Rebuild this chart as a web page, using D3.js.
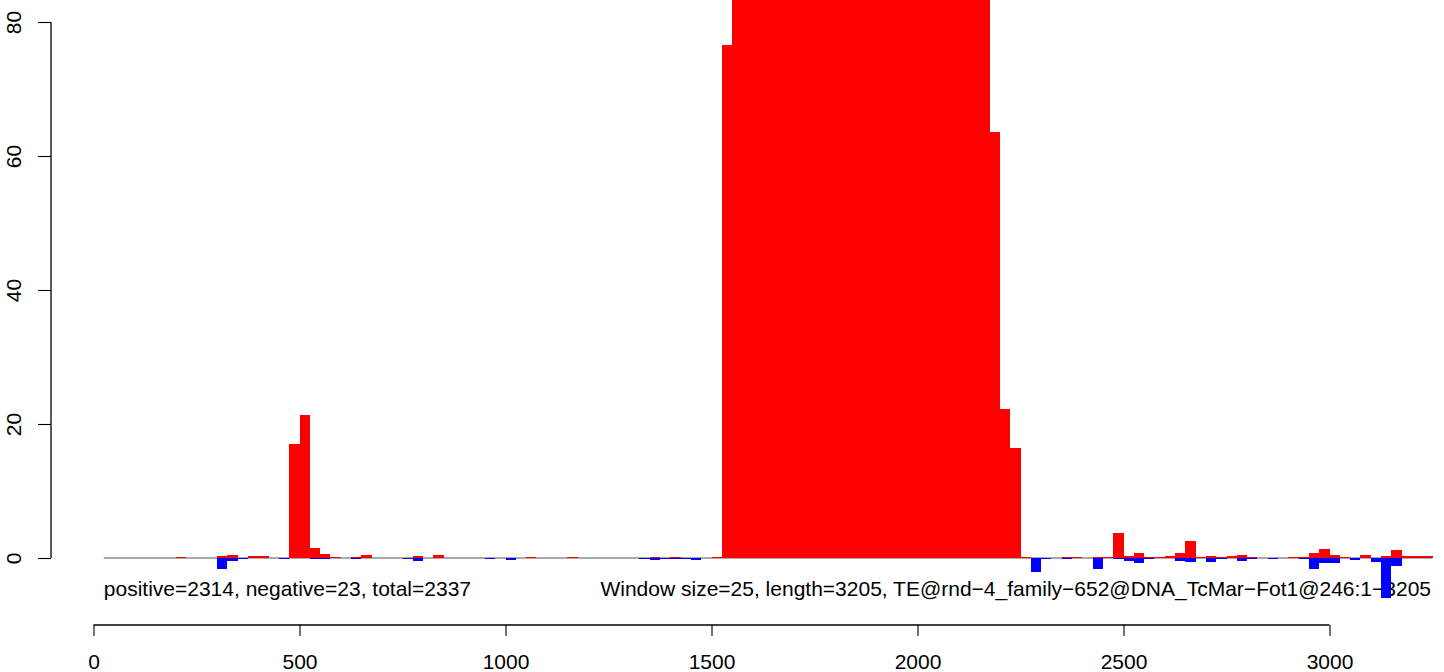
<!DOCTYPE html>
<html>
<head>
<meta charset="utf-8">
<script src="https://cdn.jsdelivr.net/npm/d3@7"></script>
<style>
html,body{margin:0;padding:0;background:#fff;}
svg{display:block;}
text{font-family:"Liberation Sans",Arial,Helvetica,sans-serif;fill:#000;}
</style>
</head>
<body>
<svg id="chart" width="1444" height="672"></svg>
<script>
// ---- data ----
const windowSize = 25;
const windowStarts = d3.range(25, 3250, 25); // 129 windows
const positiveValues = [
  0,0,0,0,0,0,0,0.15,0,0,
  0,0.3,0.45,0,0.3,0.3,0,0,17.0,21.3,
  1.5,0.6,0.15,0,0.15,0.45,0,0,0,0,
  0.3,0,0.45,0,0,0,0,0,0,0,
  0,0.15,0,0,0,0.15,0,0,0,0,
  0,0,0,0.15,0,0.15,0,0,0,0.15,
  76.6,85,86,87,86,88,87,86,89,88,
  87,86,88,87,86,85,87,86,88,87,
  86,85,86,85,84,85,63.6,22.2,16.4,0.15,
  0,0,0,0.15,0.15,0,0.15,0.15,3.7,0.3,
  0.75,0.15,0.15,0.3,0.75,2.5,0.15,0.3,0.15,0.3,
  0.45,0.15,0,0,0,0.15,0.15,0.75,1.35,0.45,
  0.15,0,0.45,0,0.3,1.2,0.3,0.3,0.3
];
const negativeValues = [
  0,0,0,0,0,0,0,0,0,0,
  0,-1.6,-0.45,-0.15,0,0,0,-0.15,0,0,
  -0.15,-0.15,0,0,-0.15,0,0,0,0,-0.15,
  -0.45,0,0,0,0,0,0,-0.15,0,-0.3,
  0,0,0,0,0,0,0,0,0,0,
  0,0,-0.15,-0.3,-0.15,-0.15,-0.15,-0.3,0,0,
  0,0,0,0,0,0,0,0,0,0,
  0,0,0,0,0,0,0,0,0,0,
  0,0,0,0,0,0,0,0,0,0,
  -2.1,-0.15,0,-0.15,0,0,-1.6,0,-0.15,-0.45,
  -0.75,-0.15,0,0,-0.45,-0.6,0,-0.6,-0.15,0,
  -0.4,-0.15,0,-0.15,0,0,-0.15,-1.7,-0.7,-0.7,
  0,-0.25,0,-0.55,-5.9,-1.15,0,0,0
];
const xTicks = [0,500,1000,1500,2000,2500,3000];
const yTicks = [0,20,40,60,80];
const leftLabel = "positive=2314, negative=23, total=2337";
const rightLabel = "Window size=25, length=3205, TE@rnd\u22124_family\u2212652@DNA_TcMar\u2212Fot1@246:1\u22123205";

const FS = 21;

// ---- scales ----
const svg = d3.select("#chart");
const x = d3.scaleLinear().domain([0,3000]).range([93.5,1329.5]);
const y = d3.scaleLinear().domain([0,80]).range([558,22]);

// annotation texts (drawn under bars)
svg.append("text").attr("x", x(25)).attr("y", 596).attr("font-size", FS).text(leftLabel);
svg.append("text").attr("x", 1431).attr("y", 596).attr("font-size", FS)
  .attr("text-anchor","end").text(rightLabel);

// baseline
svg.append("line")
  .attr("x1", x(windowStarts[0])).attr("x2", x(windowStarts[windowStarts.length-1] + windowSize))
  .attr("y1", y(0)).attr("y2", y(0))
  .attr("stroke", "#8c8c8c").attr("stroke-width", 1.3);

const data = windowStarts.map((s,i)=>({s, p: positiveValues[i], n: negativeValues[i]}));

svg.append("g").attr("shape-rendering","crispEdges")
  .selectAll("rect.pos").data(data.filter(d=>d.p>0)).join("rect")
  .attr("x", d=>x(d.s)).attr("width", d=>x(d.s+windowSize)-x(d.s))
  .attr("y", d=>y(d.p)).attr("height", d=>Math.max(1, y(0)-y(d.p)))
  .attr("fill", "#ff0000");

svg.append("g").attr("shape-rendering","crispEdges")
  .selectAll("rect.neg").data(data.filter(d=>d.n<0)).join("rect")
  .attr("x", d=>x(d.s)).attr("width", d=>x(d.s+windowSize)-x(d.s))
  .attr("y", y(0)).attr("height", d=>Math.max(1, y(d.n)-y(0)))
  .attr("fill", "#0000ff");

// x axis
const xAxis = svg.append("g").attr("transform","translate(0,625)")
  .call(d3.axisBottom(x).tickValues(xTicks).tickSize(11).tickPadding(18).tickFormat(d3.format("d")));
xAxis.select(".domain").attr("d", `M${x(0)},0H${x(3000)}`).attr("stroke","#000").attr("stroke-width",1.3);
xAxis.selectAll(".tick line").attr("stroke","#000").attr("stroke-width",1.1);
xAxis.selectAll("text").attr("font-size",FS).attr("font-family","Liberation Sans, Arial, sans-serif").attr("fill","#000");

// y axis
const yAxis = svg.append("g").attr("transform","translate(51,0)")
  .call(d3.axisLeft(y).tickValues(yTicks).tickSize(13).tickPadding(0).tickFormat(d3.format("d")));
yAxis.select(".domain").attr("d", `M0,${y(0)}V${y(80)}`).attr("stroke","#000").attr("stroke-width",1.3);
yAxis.selectAll(".tick line").attr("stroke","#000").attr("stroke-width",1.1);
yAxis.selectAll("text")
  .attr("x", null).attr("dy", null)
  .attr("transform","translate(-30,0) rotate(-90)")
  .attr("text-anchor","middle")
  .attr("font-size",FS).attr("font-family","Liberation Sans, Arial, sans-serif").attr("fill","#000");
</script>
</body>
</html>
